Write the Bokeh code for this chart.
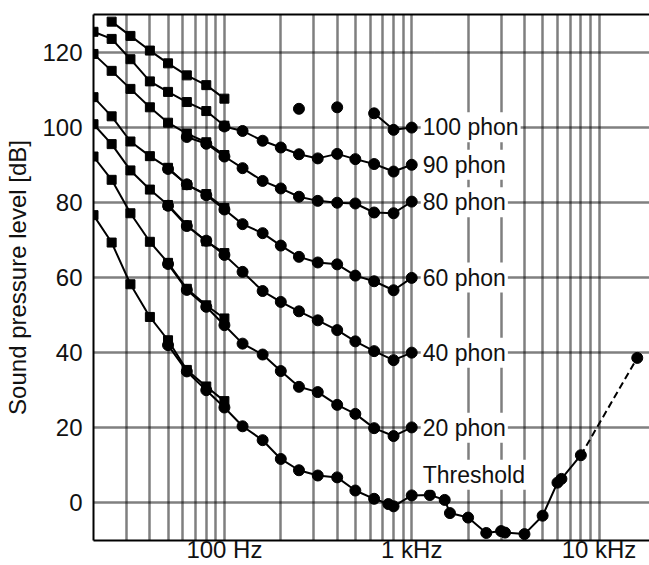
from bokeh.plotting import figure
from bokeh.models import FixedTicker, Label, LogAxis
from bokeh.embed import file_html
from bokeh.resources import INLINE

FONT = "Liberation Sans"

# ---- data ----
sq_freq = [20, 25, 31.5, 40, 50, 63, 80, 100]
sq_100 = [128.1, 124.3, 120.4, 117.0, 113.8, 111.2, 107.6]          # from 25 Hz
sq_90 = [125.4, 123.5, 118.1, 112.2, 109.4, 106.7, 104.3, 100.4]
sq_80 = [119.5, 115.0, 110.2, 105.3, 101.2, 98.3, 96.0, 92.6]
sq_60 = [108.0, 102.9, 96.2, 92.3, 89.2, 84.6, 82.2, 78.5]
sq_40 = [100.8, 95.5, 88.5, 83.4, 79.3, 73.9, 69.6, 66.5]
sq_20 = [92.2, 86.0, 77.1, 69.5, 63.9, 57.0, 52.6, 49.1]
sq_thr = [76.6, 69.3, 58.2, 49.5, 43.3, 35.4, 31.0, 27.1]

c_freq = [50, 63, 80, 100, 125, 160, 200, 250, 315, 400, 500, 630, 800, 1000]
c_100_freq = [250, 400, 630, 800, 1000]
c_100 = [104.9, 105.3, 103.7, 99.3, 99.9]
c_90 = [100.2, 99.0, 96.4, 94.6, 92.8, 91.7, 92.9, 91.5, 90.2, 88.2, 90.0]        # from 100 Hz
c_80 = [97.4, 95.6, 92.2, 89.1, 85.7, 83.7, 81.5, 80.4, 79.9, 79.7, 77.3, 77.1, 80.2]  # from 63 Hz
c_60 = [88.9, 84.8, 81.9, 78.1, 74.2, 71.8, 68.5, 65.5, 64.0, 63.5, 60.5, 59.0, 56.6, 59.9]
c_40 = [79.1, 73.7, 69.8, 66.0, 61.5, 56.4, 53.5, 51.0, 48.6, 46.0, 43.0, 40.4, 38.0, 40.0]
c_20 = [63.6, 56.7, 52.2, 47.3, 42.4, 39.5, 35.1, 30.9, 29.5, 26.1, 23.7, 19.9, 17.8, 20.1]

thr_freq = [50, 63, 80, 100, 125, 160, 200, 250, 315, 400, 500, 630, 750, 800, 1000,
            1250, 1500, 1600, 2000, 2500, 3000, 3150, 4000, 5000, 6000, 6300, 8000]
thr = [42.0, 35.0, 30.0, 25.4, 20.4, 16.7, 11.7, 8.7, 7.3, 6.8, 3.3, 1.1, -0.3, -0.9, 2.0,
       2.1, 0.8, -2.7, -3.9, -8.0, -7.5, -7.9, -8.3, -3.4, 5.4, 6.4, 12.7]
thr_ext_freq = [8000, 16000]
thr_ext = [12.7, 38.6]

curve_labels = ["100 phon", "90 phon", "80 phon", "60 phon", "40 phon", "20 phon", "Threshold"]
label_levels = [100, 90, 80, 60, 40, 20, 7.5]

x_ticks = [100, 1000, 10000]
x_tick_labels = {100: "100 Hz", 1000: "1 kHz", 10000: "10 kHz"}
x_grid = [30, 40, 50, 60, 70, 80, 90, 100, 200, 300, 400, 500, 600, 700, 800, 900, 1000,
          2000, 3000, 4000, 5000, 6000, 7000, 8000, 9000, 10000]
y_ticks = [0, 20, 40, 60, 80, 100, 120]

p = figure(width=649, height=565, x_axis_type="log", x_range=(20, 18600), y_range=(-10, 130),
           output_backend="svg", toolbar_location=None,
           min_border_left=93, min_border_right=0, min_border_top=14, min_border_bottom=20)
p.outline_line_color = None
p.background_fill_color = "white"
p.border_fill_color = "white"

# grids
for g, t in ((p.xgrid, x_grid), (p.ygrid, y_ticks)):
    g.ticker = FixedTicker(ticks=t)
    g.grid_line_color = "black"
    g.grid_line_width = 2.5
    g.grid_line_dash = "1 1"

bottom = p.below[0]
left = p.left[0]

# top border as a bare axis without ticks
top = LogAxis(ticker=FixedTicker(ticks=[]), axis_line_width=2, axis_line_color="black",
              major_tick_out=0, minor_tick_out=0, major_tick_in=0, minor_tick_in=0,
              major_label_standoff=0)
p.add_layout(top, "above")

# axes
bottom.ticker = FixedTicker(ticks=x_ticks)
bottom.major_label_overrides = x_tick_labels
left.ticker = FixedTicker(ticks=y_ticks)
for ax in (bottom, left):
    ax.axis_line_width = 2
    ax.axis_line_color = "black"
    ax.major_tick_out = 0
    ax.minor_tick_out = 0
    ax.major_tick_in = 0
    ax.minor_tick_in = 0
    ax.major_tick_line_color = None
    ax.minor_tick_line_color = None
    ax.major_label_text_font = FONT
    ax.major_label_text_font_size = "24px"
    ax.major_label_text_color = "#111111"
bottom.major_label_standoff = -5
left.major_label_standoff = 11
left.axis_label = "Sound pressure level [dB]"
left.axis_label_text_font = FONT
left.axis_label_text_font_size = "24px"
left.axis_label_text_font_style = "normal"
left.axis_label_text_color = "#111111"
left.axis_label_standoff = 8

LW = 2
# square series (low frequency)
sq_sets = [(sq_freq[1:], sq_100), (sq_freq, sq_90), (sq_freq, sq_80), (sq_freq, sq_60),
           (sq_freq, sq_40), (sq_freq, sq_20), (sq_freq, sq_thr)]
for fx, vy in sq_sets:
    p.line(fx, vy, line_color="black", line_width=LW)
    p.scatter(fx, vy, marker="square", size=9, color="black")

# circle series
c_sets = [(c_freq[3:], c_90), (c_freq[1:], c_80), (c_freq, c_60), (c_freq, c_40),
          (c_freq, c_20), (thr_freq, thr)]
for fx, vy in c_sets:
    p.line(fx, vy, line_color="black", line_width=LW)
    p.scatter(fx, vy, marker="circle", size=11, color="black")

p.line(c_100_freq[2:], c_100[2:], line_color="black", line_width=LW)
p.scatter(c_100_freq, c_100, marker="circle", size=11, color="black")

p.line(thr_ext_freq, thr_ext, line_color="black", line_width=LW, line_dash="7 4")
p.scatter(thr_ext_freq[1:], thr_ext[1:], marker="circle", size=11, color="black")

for txt, lv in zip(curve_labels, label_levels):
    p.add_layout(Label(x=1000, y=lv, x_offset=9, text=txt, text_baseline="middle",
                       text_align="left", text_font=FONT, text_font_size="23px",
                       text_color="#111111", background_fill_color="white", padding=2))

open("out.html", "w").write(file_html(p, INLINE))
